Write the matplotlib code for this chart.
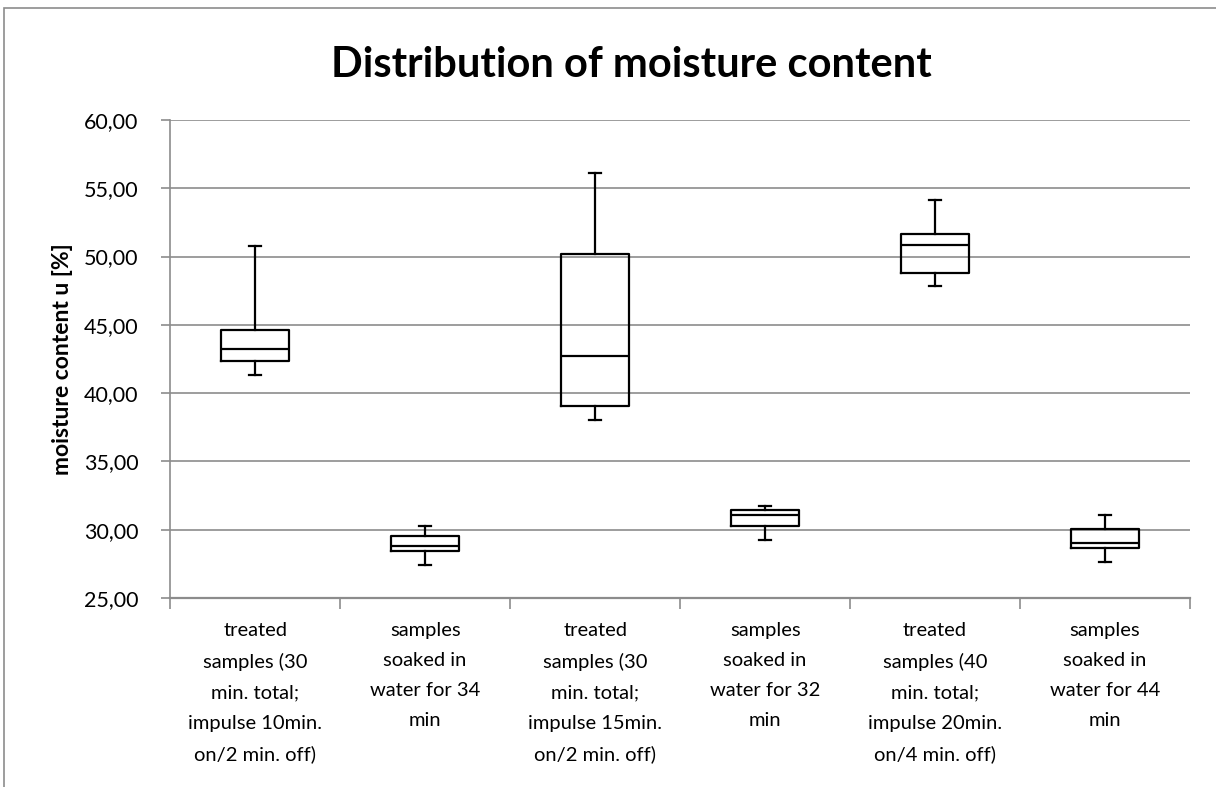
import numpy as np
import matplotlib
matplotlib.use("Agg")
import matplotlib.pyplot as plt
from matplotlib.patches import Rectangle
from matplotlib.ticker import FuncFormatter, FixedLocator

plt.rcParams['font.family'] = ['Lato', 'DejaVu Sans']

labels = [
    "treated\nsamples (30\nmin. total;\nimpulse 10min.\non/2 min. off)",
    "samples\nsoaked in\nwater for 34\nmin",
    "treated\nsamples (30\nmin. total;\nimpulse 15min.\non/2 min. off)",
    "samples\nsoaked in\nwater for 32\nmin",
    "treated\nsamples (40\nmin. total;\nimpulse 20min.\non/4 min. off)",
    "samples\nsoaked in\nwater for 44\nmin",
]
whisker_low = [41.35, 27.44, 38.03, 29.27, 47.86, 27.64]
q1 = [42.37, 28.45, 39.03, 30.30, 48.83, 28.64]
median = [43.25, 28.79, 42.73, 31.10, 50.86, 29.03]
q3 = [44.59, 29.54, 50.22, 31.44, 51.64, 30.05]
whisker_high = [50.80, 30.30, 56.10, 31.76, 54.17, 31.10]

stats = []
for i in range(len(labels)):
    stats.append({"whislo": whisker_low[i], "q1": q1[i], "med": median[i],
                  "q3": q3[i], "whishi": whisker_high[i], "fliers": []})

fig = plt.figure(figsize=(12.16, 7.87), dpi=100)
ax = fig.add_axes([0.14, 0.2402, 0.8386, 0.6073])

pos = np.arange(len(labels)) + 0.5
line = dict(color="black", linewidth=1.6)
ax.bxp(stats, positions=pos, widths=0.4, capwidths=0.07, showfliers=False,
       boxprops=line, medianprops=line, whiskerprops=line, capprops=line)

ax.set_xlim(0, len(labels))
ax.set_ylim(25, 60)
ax.set_yticks(np.arange(25, 61, 5))
ax.yaxis.set_major_formatter(FuncFormatter(lambda v, p: f"{v:.2f}".replace(".", ",")))
ax.yaxis.grid(True, color="#8c8c8c", linewidth=1.2)
ax.set_axisbelow(True)

ax.xaxis.set_major_locator(FixedLocator(np.arange(0, len(labels) + 1)))
ax.xaxis.set_minor_locator(FixedLocator(pos))
ax.set_xticklabels([], minor=False)
ax.set_xticklabels(labels, minor=True, fontsize=14.5, linespacing=1.95)
ax.tick_params(axis="x", which="major", length=8, color="#8c8c8c", width=1.2)
ax.tick_params(axis="x", which="minor", length=0, pad=17)
ax.tick_params(axis="y", length=6.5, color="#8c8c8c", width=1.2, labelsize=15.5, pad=16.5)

for s in ["top", "right"]:
    ax.spines[s].set_visible(False)
ax.spines["left"].set_color("#8c8c8c")
ax.spines["bottom"].set_color("#8c8c8c")
ax.spines["bottom"].set_linewidth(1.6)
ax.spines["left"].set_linewidth(1.2)

ax.set_ylabel("moisture content u [%]", fontsize=16.5, fontweight="bold", labelpad=8)
fig.text(0.519, 0.918, "Distribution of moisture content", ha="center", va="center",
         fontsize=30, fontweight="bold")

fig.patches.append(Rectangle((4 / 1216, -0.1), 1.2, 1.1 - 8 / 787, transform=fig.transFigure,
                             fill=False, edgecolor="#8c8c8c", linewidth=1.2))

fig.savefig("out.png", dpi=100)
